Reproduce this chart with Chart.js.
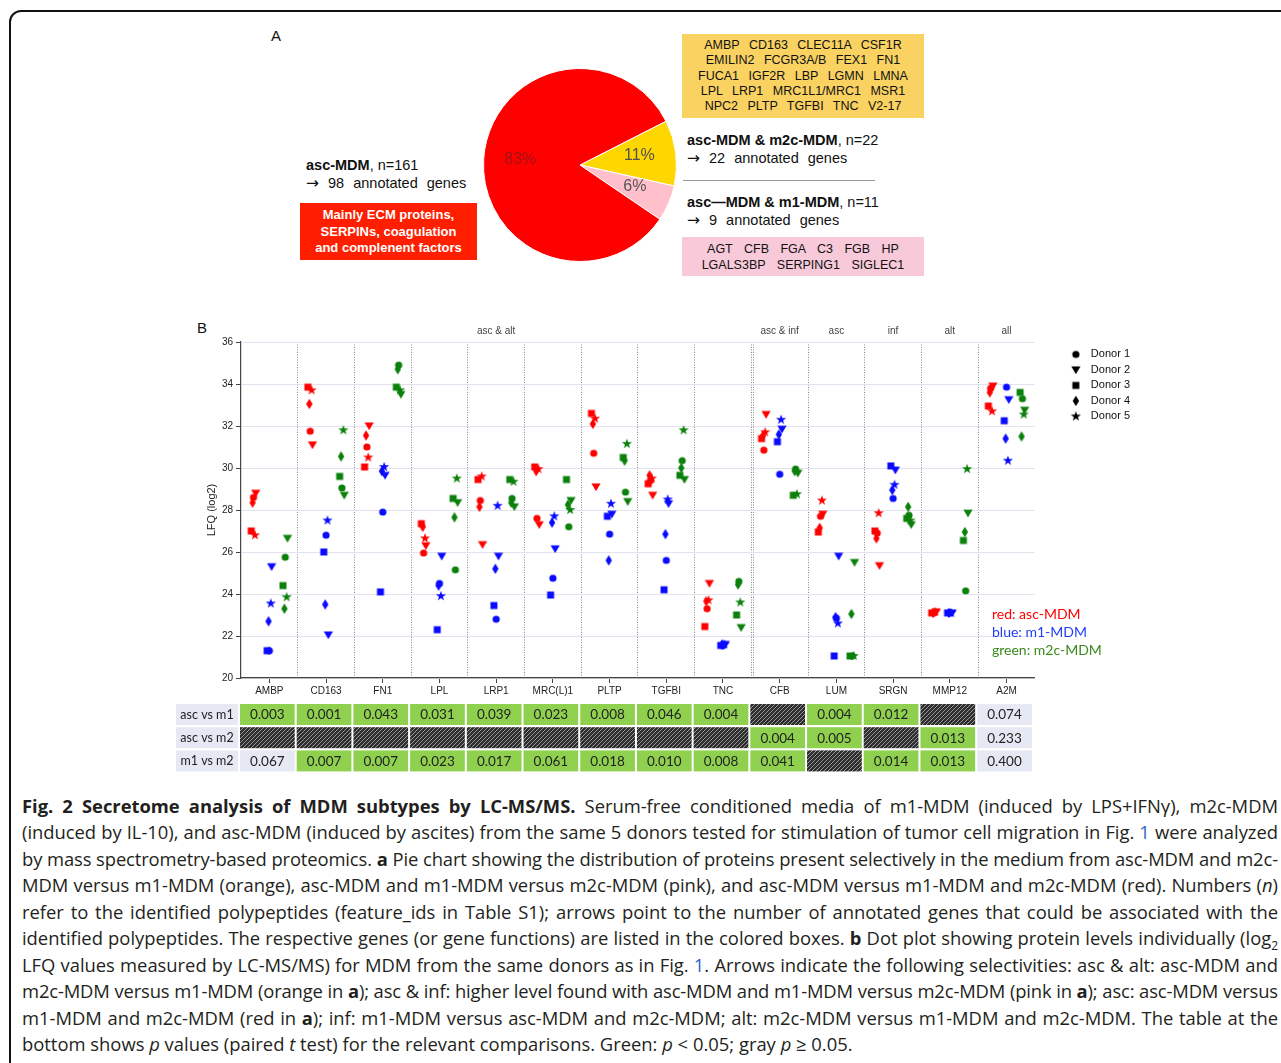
<!DOCTYPE html>
<html>
<head>
<meta charset="utf-8">
<script src="https://cdn.jsdelivr.net/npm/chart.js@4.4.1/dist/chart.umd.min.js"></script>
<style>
  html, body { margin: 0; padding: 0; background: #fff; }
  body { width: 1281px; height: 1063px; position: relative; overflow: hidden;
         font-family: 'Liberation Sans', Arial, sans-serif; color: #111; }
  .abs { position: absolute; white-space: nowrap; }
  #frame { position: absolute; left: 9px; top: 10px; width: 1320px; height: 1120px;
           border: 2.5px solid #111; border-radius: 12px; box-sizing: border-box; }
  .panel { font-size: 15px; line-height: 18px; }
  .head { font-size: 14.5px; line-height: 18px; }
  .head .arr { word-spacing: 5px; }
  .head .ar { font-family: 'DejaVu Sans', sans-serif; font-size: 15.5px; }
  .genes { text-align: center; font-size: 12.5px; line-height: 15.25px; word-spacing: 6px; }
  #redBox { left: 300px; top: 203px; width: 177px; height: 57px; background: #ff1e00; color: #fff;
            font-weight: bold; font-size: 13px; line-height: 16.5px; text-align: center;
            box-sizing: border-box; padding-top: 4px; }
  #yellowBox { left: 682px; top: 34px; width: 242px; height: 84px; background: #f9d262;
               box-sizing: border-box; padding-top: 4px; }
  #pinkBox { left: 682px; top: 237px; width: 242px; height: 39px; background: #f7c9d9;
             box-sizing: border-box; padding-top: 4px; line-height: 16px; word-spacing: 8px; }
  #sep { left: 683px; top: 180px; width: 192px; height: 1px; background: #9a9a9a; }
  #keyText { left: 992px; top: 605px; font-family: Lato, sans-serif; font-size: 14px; line-height: 18px; }
  #caption { position: absolute; left: 22px; top: 793px; width: 1256px;
             font-family: 'Open Sans', sans-serif; font-size: 18.4px; line-height: 26.45px; color: #231f20; }
  #caption .ln { text-align: justify; text-align-last: justify; height: 26.45px; overflow: visible; }
  #caption .ln.last { text-align-last: left; }
  #caption .lnk { color: #2a63c8; }
  #caption sub { font-size: 12px; line-height: 0; }
</style>
</head>
<body>
<div id="frame"></div>

<div class="abs panel" style="left:271px;top:27px;">A</div>
<canvas id="pie" class="abs" width="194" height="194" style="left:483px;top:68px;"></canvas>

<div class="abs head" style="left:306px;top:156px;"><b>asc-MDM</b>, n=161<br><span class="arr"><span class="ar">&#8594;</span> 98 annotated genes</span></div>
<div id="redBox" class="abs">Mainly ECM proteins,<br>SERPINs, coagulation<br>and complenent factors</div>

<div id="yellowBox" class="abs genes">AMBP CD163 CLEC11A CSF1R<br>EMILIN2 FCGR3A/B FEX1 FN1<br>FUCA1 IGF2R LBP LGMN LMNA<br>LPL LRP1 MRC1L1/MRC1 MSR1<br>NPC2 PLTP TGFBI TNC V2-17</div>
<div class="abs head" style="left:687px;top:131px;"><b>asc-MDM &amp; m2c-MDM</b>, n=22<br><span class="arr"><span class="ar">&#8594;</span> 22 annotated genes</span></div>
<div id="sep" class="abs"></div>
<div class="abs head" style="left:687px;top:193px;"><b>asc&#8212;MDM &amp; m1-MDM</b>, n=11<br><span class="arr"><span class="ar">&#8594;</span> 9 annotated genes</span></div>
<div id="pinkBox" class="abs genes">AGT CFB FGA C3 FGB HP<br>LGALS3BP SERPING1 SIGLEC1</div>

<div class="abs panel" style="left:197px;top:319px;">B</div>
<canvas id="dots" class="abs" width="975" height="460" style="left:165px;top:318px;"></canvas>
<div id="keyText" class="abs"><span style="color:#ff0000">red: asc-MDM</span><br><span style="color:#1f3cff">blue: m1-MDM</span><br><span style="color:#3c8a1e">green: m2c-MDM</span></div>

<div id="caption">
  <div class="ln"><span><b>Fig. 2 Secretome analysis of MDM subtypes by LC-MS/MS.</b> Serum-free conditioned media of m1-MDM (induced by LPS+IFN&#947;), m2c-MDM</span></div>
  <div class="ln"><span>(induced by IL-10), and asc-MDM (induced by ascites) from the same 5 donors tested for stimulation of tumor cell migration in Fig. <span class="lnk">1</span> were analyzed</span></div>
  <div class="ln"><span>by mass spectrometry-based proteomics. <b>a</b> Pie chart showing the distribution of proteins present selectively in the medium from asc-MDM and m2c-</span></div>
  <div class="ln"><span>MDM versus m1-MDM (orange), asc-MDM and m1-MDM versus m2c-MDM (pink), and asc-MDM versus m1-MDM and m2c-MDM (red). Numbers (<i>n</i>)</span></div>
  <div class="ln"><span>refer to the identified polypeptides (feature_ids in Table S1); arrows point to the number of annotated genes that could be associated with the</span></div>
  <div class="ln"><span>identified polypeptides. The respective genes (or gene functions) are listed in the colored boxes. <b>b</b> Dot plot showing protein levels individually (log<sub>2</sub></span></div>
  <div class="ln"><span>LFQ values measured by LC-MS/MS) for MDM from the same donors as in Fig. <span class="lnk">1</span>. Arrows indicate the following selectivities: asc &amp; alt: asc-MDM and</span></div>
  <div class="ln"><span>m2c-MDM versus m1-MDM (orange in <b>a</b>); asc &amp; inf: higher level found with asc-MDM and m1-MDM versus m2c-MDM (pink in <b>a</b>); asc: asc-MDM versus</span></div>
  <div class="ln"><span>m1-MDM and m2c-MDM (red in <b>a</b>); inf: m1-MDM versus asc-MDM and m2c-MDM; alt: m2c-MDM versus m1-MDM and m2c-MDM. The table at the</span></div>
  <div class="ln last"><span>bottom shows <i>p</i> values (paired <i>t</i> test) for the relevant comparisons. Green: <i>p</i> &lt; 0.05; gray <i>p</i> &#8805; 0.05.</span></div>
</div>

<script>
// ---- pie (panel A) ----
const pieGroups = ['asc-MDM & m2c-MDM', 'asc-MDM & m1-MDM', 'asc-MDM'];
const pieShares = [11, 6, 83];
const pieColors = ['#ffd700', '#ffc0cb', '#ff0000'];
const pieTextColors = ['#505050', '#555555', '#a01212'];

// ---- dot plot (panel B) ----
const genes = ['AMBP', 'CD163', 'FN1', 'LPL', 'LRP1', 'MRC(L)1', 'PLTP', 'TGFBI', 'TNC', 'CFB', 'LUM', 'SRGN', 'MMP12', 'A2M'];
const groupLabels = ['asc & alt', 'asc & inf', 'asc', 'inf', 'alt', 'all'];
const groupCenters = [4, 9, 10, 11, 12, 13];
const donors = ['Donor 1', 'Donor 2', 'Donor 3', 'Donor 4', 'Donor 5'];

// LFQ (log2) per gene, donors 1..5
const ascMDM = [
  [28.6, 28.8, 27.0, 28.35, 26.8],
  [31.75, 31.1, 33.85, 33.05, 33.7],
  [31.0, 32.0, 30.05, 31.55, 30.5],
  [25.95, 26.3, 27.35, 27.2, 26.65],
  [28.45, 26.35, 29.45, 28.15, 29.6],
  [27.6, 27.3, 30.05, 29.85, 29.95],
  [30.7, 29.1, 32.6, 32.1, 32.35],
  [29.4, 28.7, 29.25, 29.65, 29.5],
  [23.3, 24.5, 22.45, 23.65, 23.7],
  [30.85, 32.55, 31.4, 31.55, 31.7],
  [27.7, 27.8, 26.95, 27.15, 28.45],
  [26.9, 25.35, 27.0, 26.65, 27.85],
  [23.1, 23.15, 23.1, 23.1, 23.15],
  [33.8, 33.9, 32.95, 33.6, 32.7]
];
const m1MDM = [
  [21.3, 25.3, 21.3, 22.7, 23.55],
  [26.8, 22.05, 26.0, 23.5, 27.5],
  [27.9, 29.65, 24.1, 29.85, 30.05],
  [24.5, 25.8, 22.3, 24.4, 23.9],
  [22.8, 25.8, 23.45, 25.2, 28.2],
  [24.75, 26.15, 23.95, 27.4, 27.7],
  [26.85, 27.8, 27.7, 25.6, 28.3],
  [25.6, 28.3, 24.2, 26.85, 28.5],
  [21.55, 21.6, 21.55, 21.6, 21.6],
  [29.7, 31.85, 31.25, 31.6, 32.3],
  [22.85, 25.8, 21.05, 22.9, 22.6],
  [28.55, 29.9, 30.1, 28.95, 29.2],
  [23.1, 23.1, 23.1, 23.1, 23.1],
  [33.85, 33.25, 32.25, 31.4, 30.35]
];
const m2cMDM = [
  [25.75, 26.65, 24.4, 23.3, 23.85],
  [29.05, 28.7, 29.6, 30.55, 31.8],
  [34.9, 33.5, 33.85, 34.7, 33.7],
  [25.15, 28.35, 28.55, 27.65, 29.5],
  [28.55, 28.15, 29.45, 28.35, 29.35],
  [27.2, 28.45, 29.45, 28.25, 28.0],
  [28.85, 28.4, 30.5, 30.35, 31.15],
  [30.35, 29.45, 29.65, 30.0, 31.8],
  [24.6, 22.4, 23.0, 24.45, 23.6],
  [29.95, 29.75, 28.7, 29.85, 28.75],
  [21.05, 25.5, 21.05, 23.05, 21.05],
  [27.75, 27.3, 27.6, 28.15, 27.5],
  [24.15, 27.85, 26.55, 26.95, 29.95],
  [33.3, 32.75, 33.6, 31.5, 32.55]
];

// p values table (null = not tested, hatched)
const rowNames = ['asc vs m1', 'asc vs m2', 'm1 vs m2'];
const pAscM1 = ['0.003', '0.001', '0.043', '0.031', '0.039', '0.023', '0.008', '0.046', '0.004', null, '0.004', '0.012', null, '0.074'];
const pAscM2 = [null, null, null, null, null, null, null, null, null, '0.004', '0.005', null, '0.013', '0.233'];
const pM1M2 = ['0.067', '0.007', '0.007', '0.023', '0.017', '0.061', '0.018', '0.010', '0.008', '0.041', null, '0.014', '0.013', '0.400'];
const grayCells = [[2, 0], [0, 13], [1, 13], [2, 13]];

const groupColors = ['#ff0000', '#0a0aff', '#0b800b'];
const groupOffsets = [-0.28, 0, 0.28];
const donorJitter = [0, 0.04, -0.04, -0.015, 0.025];
const shapes = ['circle', 'triangle', 'square', 'diamond', 'star'];

// caption lines wider than the box get a slight negative letter spacing so none wraps
document.querySelectorAll('#caption .ln').forEach(ln => {
  const span = ln.firstElementChild;
  ln.style.whiteSpace = 'nowrap';
  const w = span.getBoundingClientRect().width;
  const limit = ln.clientWidth - 3;
  if (w > limit) {
    ln.style.letterSpacing = (-(w - limit) / span.textContent.length) + 'px';
  }
  ln.style.whiteSpace = '';
});

function makeMarker(shape, color) {
  const c = document.createElement('canvas');
  c.width = 12; c.height = 12;
  const g = c.getContext('2d');
  g.fillStyle = color;
  g.translate(6, 6);
  g.beginPath();
  if (shape === 'circle') g.arc(0, 0, 3.6, 0, Math.PI * 2);
  else if (shape === 'triangle') { g.moveTo(-4.6, -3.4); g.lineTo(4.6, -3.4); g.lineTo(0, 4.3); }
  else if (shape === 'square') g.rect(-3.5, -3.5, 7, 7);
  else if (shape === 'diamond') { g.moveTo(0, -5.2); g.lineTo(3.2, 0); g.lineTo(0, 5.2); g.lineTo(-3.2, 0); }
  else {
    for (let k = 0; k < 10; k++) {
      const r = k % 2 ? 2.1 : 5.3;
      const a = -Math.PI / 2 + k * Math.PI / 5;
      g.lineTo(r * Math.cos(a), r * Math.sin(a));
    }
  }
  g.closePath();
  g.fill();
  return c;
}

const markers = groupColors.map(col => shapes.map(s => makeMarker(s, col)));
const blackMarkers = shapes.map(s => makeMarker(s, '#000'));

function makeSet(label, values, gi) {
  const pts = [];
  values.forEach((row, i) => {
    row.forEach((v, d) => pts.push({ x: i + groupOffsets[gi] + donorJitter[d], y: v, d }));
  });
  return {
    label,
    data: pts,
    pointStyle: ctx => markers[gi][ctx.raw ? ctx.raw.d : 0],
    pointRadius: 4,
    backgroundColor: groupColors[gi],
    borderColor: groupColors[gi]
  };
}

function makeHatch(ctx) {
  const p = document.createElement('canvas');
  p.width = 4; p.height = 4;
  const g = p.getContext('2d');
  g.fillStyle = '#2e2e2e';
  g.fillRect(0, 0, 4, 4);
  g.strokeStyle = '#9a9a9a';
  g.lineWidth = 1;
  g.beginPath();
  g.moveTo(0, 4); g.lineTo(4, 0);
  g.moveTo(-1, 1); g.lineTo(1, -1);
  g.moveTo(3, 5); g.lineTo(5, 3);
  g.stroke();
  return ctx.createPattern(p, 'repeat');
}

// draws the p value table under the x axis, columns taken from the x scale
const pTable = {
  id: 'pTable',
  afterDraw(chart) {
    const { ctx, chartArea, scales: { x } } = chart;
    const hatch = makeHatch(ctx);
    const step = x.getPixelForValue(1) - x.getPixelForValue(0);
    const isGray = (r, i) => grayCells.some(c => c[0] === r && c[1] === i);
    ctx.save();
    ctx.textAlign = 'center';
    ctx.textBaseline = 'middle';
    [pAscM1, pAscM2, pM1M2].forEach((vals, r) => {
      const top = chartArea.bottom + 26 + r * 23.2;
      const h = 21;
      const labelLeft = x.getPixelForValue(-0.5) - 65;
      ctx.fillStyle = '#e6e8f3';
      ctx.fillRect(labelLeft, top, 62, h);
      ctx.fillStyle = '#222';
      ctx.font = '12.5px Lato';
      ctx.fillText(rowNames[r], labelLeft + 31, top + h / 2 + 0.5);
      vals.forEach((v, i) => {
        const left = x.getPixelForValue(i - 0.5) - 1;
        const w = step - 2;
        ctx.fillStyle = v === null ? hatch : (isGray(r, i) ? '#e6e8f3' : '#8fd14f');
        ctx.fillRect(left, top, w, h);
        if (v !== null) {
          ctx.fillStyle = '#222';
          ctx.font = '13.5px Lato';
          ctx.fillText(v, left + w / 2, top + h / 2 + 0.5);
        }
      });
    });
    ctx.restore();
  }
};

const pieText = {
  id: 'pieText',
  afterDatasetsDraw(chart) {
    const { ctx } = chart;
    ctx.save();
    ctx.font = '16px "Liberation Sans"';
    ctx.textAlign = 'center';
    ctx.textBaseline = 'middle';
    chart.getDatasetMeta(0).data.forEach((arc, i) => {
      const mid = (arc.startAngle + arc.endAngle) / 2;
      const r = arc.outerRadius * 0.62;
      ctx.fillStyle = pieTextColors[i];
      ctx.fillText(pieShares[i] + '%', arc.x + Math.cos(mid) * r, arc.y + Math.sin(mid) * r - 2);
    });
    ctx.restore();
  }
};

Chart.defaults.font.family = "'Liberation Sans', Arial, sans-serif";
Chart.defaults.devicePixelRatio = 1;

new Chart(document.getElementById('pie'), {
  type: 'pie',
  data: {
    labels: pieGroups,
    datasets: [{
      data: pieShares,
      backgroundColor: pieColors,
      borderColor: '#ffffff',
      borderWidth: 1,
      hoverOffset: 0
    }]
  },
  options: {
    responsive: false,
    animation: false,
    events: [],
    rotation: 63,
    plugins: { legend: { display: false }, tooltip: { enabled: false } }
  },
  plugins: [pieText]
});

const boundaries = genes.map((g, i) => i - 0.5).concat([8.545, genes.length - 0.5]).sort((a, b) => a - b);

new Chart(document.getElementById('dots'), {
  type: 'scatter',
  data: {
    datasets: [
      makeSet('asc-MDM', ascMDM, 0),
      makeSet('m1-MDM', m1MDM, 1),
      makeSet('m2c-MDM', m2cMDM, 2)
    ]
  },
  options: {
    responsive: false,
    animation: false,
    events: [],
    layout: { padding: 0 },
    scales: {
      x: {
        type: 'linear', position: 'bottom', min: -0.5, max: genes.length - 0.5,
        afterBuildTicks: s => { s.ticks = genes.map((g, i) => ({ value: i })); },
        afterFit: s => { s.height = 100; },
        ticks: { callback: v => genes[v], autoSkip: false, maxRotation: 0, font: { size: 10 }, color: '#222', padding: 2 },
        grid: { drawOnChartArea: false, tickLength: 5, tickColor: '#444' },
        border: { color: '#444', width: 1.2 }
      },
      xTop: {
        type: 'linear', position: 'top', min: -0.5, max: genes.length - 0.5,
        afterBuildTicks: s => { s.ticks = groupCenters.map(v => ({ value: v })); },
        afterFit: s => { s.height = 24; },
        ticks: { callback: (v, i) => groupLabels[i], autoSkip: false, maxRotation: 0, font: { size: 10 }, color: '#444', padding: 5 },
        grid: { display: false, drawTicks: false },
        border: { display: false }
      },
      xGrid: {
        type: 'linear', position: 'top', min: -0.5, max: genes.length - 0.5,
        afterBuildTicks: s => { s.ticks = boundaries.map(v => ({ value: v })); },
        afterFit: s => { s.height = 0; },
        ticks: { display: false },
        grid: {
          drawTicks: false, lineWidth: 1,
          color: c => (c.tick && (c.tick.value === -0.5 || c.tick.value === genes.length - 0.5)) ? 'rgba(0,0,0,0)' : '#8a8a8a'
        },
        border: { display: false, dash: [1, 1.5] }
      },
      y: {
        min: 20, max: 36,
        afterFit: s => { s.width = 76; },
        ticks: { stepSize: 2, font: { size: 10 }, color: '#222', padding: 3 },
        grid: { color: '#e3e3f0', tickColor: '#444', tickLength: 5 },
        border: { color: '#444', width: 1.2 },
        title: { display: true, text: 'LFQ (log2)', font: { size: 11 }, color: '#222', padding: { top: 40, bottom: 0 } }
      },
      gap: {
        type: 'linear', position: 'right',
        afterFit: s => { s.width = 27; },
        ticks: { display: false },
        grid: { display: false, drawTicks: false },
        border: { display: false }
      }
    },
    plugins: {
      tooltip: { enabled: false },
      legend: {
        position: 'right', align: 'start', fullSize: false,
        labels: {
          usePointStyle: true, pointStyleWidth: 19, padding: 4.5,
          font: { size: 11, lineHeight: 1.2 }, color: '#111',
          generateLabels: () => donors.map((d, i) => ({
            text: d, pointStyle: blackMarkers[i], fillStyle: '#000', strokeStyle: '#000',
            lineWidth: 0, hidden: false, datasetIndex: 0, fontColor: '#111'
          }))
        },
        title: { display: true, text: '', padding: 0, font: { size: 2 } }
      }
    }
  },
  plugins: [pTable]
});
</script>
</body>
</html>
